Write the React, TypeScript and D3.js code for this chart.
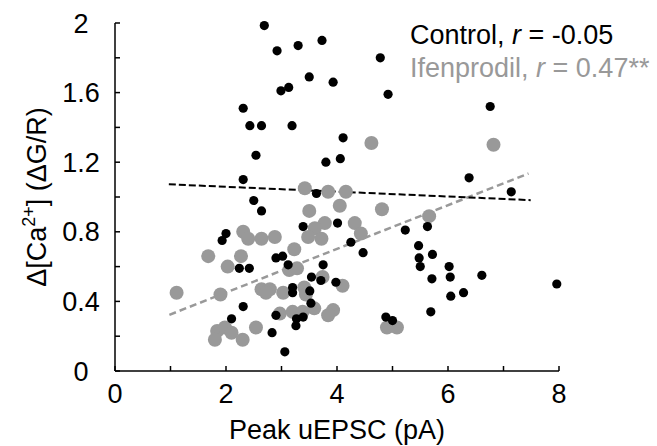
import React from "react";
import * as d3 from "d3";

const controlX = [2.69,2.92,3.30,3.50,2.99,3.13,2.31,2.43,2.64,3.19,3.73,4.78,3.93,4.92,6.76,4.11,2.54,2.31,2.50,2.64,3.39,2.00,1.93,2.90,3.02,3.80,4.06,6.38,7.14,3.63,4.01,5.23,5.63,4.25,5.47,5.72,4.47,5.48,3.75,5.50,6.02,3.54,3.71,5.71,6.04,6.61,3.98,3.51,6.05,6.28,3.53,3.39,5.69,4.88,5.00,7.96,2.24,2.42,3.12,3.20,3.20,2.31,2.90,3.27,2.10,2.83,3.26,3.06];
const controlY = [1.985,1.84,1.87,1.69,1.61,1.63,1.51,1.41,1.41,1.41,1.90,1.80,1.66,1.59,1.52,1.34,1.24,1.10,0.98,0.92,0.83,0.79,0.75,0.65,0.66,1.20,1.22,1.11,1.03,1.02,0.85,0.81,0.83,0.74,0.72,0.67,0.68,0.65,0.61,0.60,0.60,0.54,0.52,0.53,0.54,0.55,0.51,0.46,0.43,0.45,0.39,0.31,0.34,0.31,0.29,0.50,0.59,0.59,0.61,0.48,0.45,0.37,0.32,0.30,0.30,0.22,0.26,0.11];

const ifenX = [4.62,6.82,3.42,3.84,4.16,4.81,3.50,4.05,4.32,3.78,3.60,3.48,3.72,4.43,2.31,2.40,2.64,2.88,3.23,1.68,2.27,2.03,3.14,3.28,3.74,4.10,1.90,2.64,2.79,3.03,3.41,3.44,2.97,3.20,3.38,3.59,3.93,3.84,2.54,1.84,1.98,2.10,1.80,2.30,4.90,5.08,1.11,5.66,2.72];
const ifenY = [1.31,1.30,1.05,1.03,1.03,0.93,0.92,0.95,0.85,0.85,0.82,0.77,0.76,0.79,0.80,0.76,0.76,0.77,0.70,0.66,0.66,0.60,0.58,0.59,0.54,0.49,0.44,0.47,0.47,0.45,0.48,0.44,0.33,0.34,0.34,0.36,0.35,0.32,0.25,0.23,0.25,0.22,0.18,0.18,0.25,0.25,0.45,0.89,0.45];

const controlFitX = [0.97, 7.49];
const controlFitY = [1.073, 0.982];
const ifenFitX = [0.98, 7.45];
const ifenFitY = [0.323, 1.135];

const xTicks = [0,1,2,3,4,5,6,7,8];
const xLabels = [0,2,4,6,8];
const yTicks = [0,0.2,0.4,0.6,0.8,1.0,1.2,1.4,1.6,1.8,2.0];
const yLabels = [0,0.4,0.8,1.2,1.6,2];

const GRAY = "#999999";
const FONT = "'Liberation Sans', Arial, sans-serif";

export default function App() {
  const W = 657, H = 446;
  const x = d3.scaleLinear().domain([0, 8]).range([115, 559]);
  const y = d3.scaleLinear().domain([0, 2]).range([371, 23]);
  const line = d3.line<[number, number]>().x(d => x(d[0])).y(d => y(d[1]));
  const cFit = controlFitX.map((v, i) => [v, controlFitY[i]] as [number, number]);
  const iFit = ifenFitX.map((v, i) => [v, ifenFitY[i]] as [number, number]);
  const fmtY = (v: number) => (v === 0 || v === 2 ? String(v) : v.toFixed(1));
  const fs = 27;
  return (
    <div style={{ position: "fixed", left: 0, top: 0 }}>
      <svg width={W} height={H} style={{ display: "block", background: "#fff" }} fontFamily={FONT}>
        <rect width={W} height={H} fill="#fff" />
        {/* fit lines */}
        <path d={line(iFit) || ""} fill="none" stroke={GRAY} strokeWidth={2.5} strokeDasharray="7,4" />
        <path d={line(cFit) || ""} fill="none" stroke="#000" strokeWidth={2} strokeDasharray="7,3" />
        {/* points */}
        {ifenX.map((v, i) => (
          <circle key={"i" + i} cx={x(v)} cy={y(ifenY[i])} r={7} fill={GRAY} />
        ))}
        {controlX.map((v, i) => (
          <circle key={"c" + i} cx={x(v)} cy={y(controlY[i])} r={4.6} fill="#000" />
        ))}
        {/* axes */}
        <line x1={x(0)} x2={x(8)} y1={y(0)} y2={y(0)} stroke="#000" strokeWidth={1.5} />
        <line x1={x(0)} x2={x(0)} y1={y(0)} y2={y(2)} stroke="#000" strokeWidth={1.5} />
        {xTicks.map(t => (
          <line key={"xt" + t} x1={x(t)} x2={x(t)} y1={y(0)} y2={y(0) - 5} stroke="#000" strokeWidth={1.5} />
        ))}
        {yTicks.map(t => (
          <line key={"yt" + t} x1={x(0)} x2={x(0) + 5} y1={y(t)} y2={y(t)} stroke="#000" strokeWidth={1.5} />
        ))}
        {xLabels.map(t => (
          <text key={"xl" + t} x={x(t)} y={403} textAnchor="middle" fontSize={fs} fill="#000">{t}</text>
        ))}
        {yLabels.map(t => (
          <text key={"yl" + t} x={81} y={y(t) + 9.5} textAnchor="middle" fontSize={fs} fill="#000">{fmtY(t)}</text>
        ))}
        <text x={(x(0) + x(8)) / 2} y={439} textAnchor="middle" fontSize={fs} fill="#000">Peak uEPSC (pA)</text>
        <text transform={`translate(46,${(y(0) + y(2)) / 2}) rotate(-90)`} textAnchor="middle" fontSize={fs} fill="#000">
          Δ[Ca<tspan dy={-11} fontSize={18}>2+</tspan><tspan dy={11}>] (ΔG/R)</tspan>
        </text>
        {/* legend */}
        <text x={410} y={44} fontSize={fs} fill="#000">
          Control, <tspan fontStyle="italic">r</tspan> = -0.05
        </text>
        <text x={410} y={77} fontSize={fs} fill={GRAY}>
          Ifenprodil, <tspan fontStyle="italic">r</tspan> = 0.47**
        </text>
      </svg>
    </div>
  );
}
